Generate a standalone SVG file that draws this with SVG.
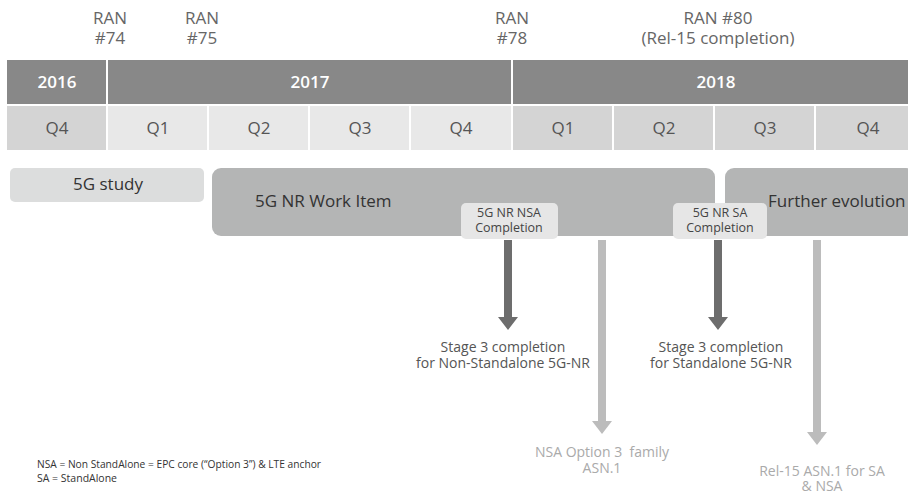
<svg xmlns="http://www.w3.org/2000/svg" width="908" height="494" viewBox="0 0 908 494">
<style>
text{font-family:"Open Sans","Noto Sans","DejaVu Sans",sans-serif;}
.ran{font-size:17px;fill:#666;text-anchor:middle;}
.yr{fill:#888;}
.yt{font-size:17px;fill:#fff;text-anchor:middle;font-weight:600;}
.qa{fill:#e8e8e8;}
.qb{fill:#d4d4d4;}
.qt{font-size:17px;fill:#555;text-anchor:middle;}
.box{font-size:17px;fill:#333;}
.cbox{fill:#e6e6e6;}
.ct{font-size:12.5px;fill:#444;text-anchor:middle;}
.st{font-size:14px;fill:#555;text-anchor:middle;}
.lt{font-size:14px;fill:#aaa;text-anchor:middle;}
.lg{font-size:10.5px;fill:#333;}
.dark{fill:#6d6d6d;}
.light{fill:#bcbcbc;}
</style>
<rect width="908" height="494" fill="#fff"/>
<g id="ran-labels">
<text class="ran" x="110" y="24">RAN</text><text class="ran" x="110" y="44">#74</text>
<text class="ran" x="202" y="24">RAN</text><text class="ran" x="202" y="44">#75</text>
<text class="ran" x="512" y="24">RAN</text><text class="ran" x="512" y="44">#78</text>
<text class="ran" x="718" y="24">RAN #80</text><text class="ran" x="718" y="44">(Rel-15 completion)</text>
</g>
<g id="years">
<rect class="yr" x="7" y="60" width="99" height="44"/>
<rect class="yr" x="108" y="60" width="403" height="44"/>
<rect class="yr" x="513" y="60" width="395" height="44"/>
<text class="yt" x="57" y="88">2016</text>
<text class="yt" x="310" y="88">2017</text>
<text class="yt" x="716" y="88">2018</text>
</g>
<g id="quarters">
<rect class="qb" x="7" y="106" width="99" height="44"/>
<rect class="qa" x="108" y="106" width="99" height="44"/>
<rect class="qa" x="209" y="106" width="99" height="44"/>
<rect class="qa" x="310" y="106" width="99" height="44"/>
<rect class="qa" x="411" y="106" width="100" height="44"/>
<rect class="qb" x="513" y="106" width="99" height="44"/>
<rect class="qb" x="614" y="106" width="99" height="44"/>
<rect class="qb" x="715" y="106" width="99" height="44"/>
<rect class="qb" x="816" y="106" width="92" height="44"/>
<text class="qt" x="57" y="134">Q4</text>
<text class="qt" x="158" y="134">Q1</text>
<text class="qt" x="259" y="134">Q2</text>
<text class="qt" x="360" y="134">Q3</text>
<text class="qt" x="461" y="134">Q4</text>
<text class="qt" x="563" y="134">Q1</text>
<text class="qt" x="664" y="134">Q2</text>
<text class="qt" x="765" y="134">Q3</text>
<text class="qt" x="868" y="134">Q4</text>
</g>
<g id="study">
<rect x="10" y="168" width="194" height="34" rx="5" fill="#dcdddd"/>
<text class="box" x="108" y="190" text-anchor="middle">5G study</text>
</g>
<g id="work-item">
<rect x="212" y="168" width="503" height="68" rx="9" fill="#b4b5b5"/>
<text class="box" x="255" y="207">5G NR Work Item</text>
</g>
<g id="further">
<rect x="725" y="168" width="190" height="68" rx="9" fill="#b4b5b5"/>
<text class="box" x="768" y="207" font-size="18">Further evolution</text>
</g>
<g id="nsa-completion">
<rect class="cbox" x="461" y="203" width="97" height="36" rx="5"/>
<text class="ct" x="509" y="217">5G NR NSA</text>
<text class="ct" x="509" y="232">Completion</text>
</g>
<g id="sa-completion">
<rect class="cbox" x="673" y="203" width="94" height="36" rx="5"/>
<text class="ct" x="720" y="217">5G NR SA</text>
<text class="ct" x="720" y="232">Completion</text>
</g>
<g id="connectors">
<polygon class="dark" points="504,240 512,240 512,317 518,317 508,330 498,317 504,317"/>
<polygon class="light" points="598,240 606,240 606,421 612,421 602,434 592,421 598,421"/>
<polygon class="dark" points="714,240 722,240 722,317 728,317 718,330 708,317 714,317"/>
<polygon class="light" points="813,240 821,240 821,432 827,432 817,445 807,432 813,432"/>
</g>
<g id="outcome-labels">
<text class="st" x="503" y="352">Stage 3 completion</text>
<text class="st" x="503" y="368">for Non-Standalone 5G-NR</text>
<text class="st" x="721" y="352">Stage 3 completion</text>
<text class="st" x="721" y="368">for Standalone 5G-NR</text>
<text class="lt" x="602" y="457" xml:space="preserve">NSA Option 3  family</text>
<text class="lt" x="602" y="473">ASN.1</text>
<text class="lt" x="822" y="476">Rel-15 ASN.1 for SA</text>
<text class="lt" x="822" y="491">&amp; NSA</text>
</g>
<g id="legend">
<text class="lg" x="37" y="468" textLength="284" lengthAdjust="spacingAndGlyphs">NSA = Non StandAlone = EPC core (“Option 3”) &amp; LTE anchor</text>
<text class="lg" x="37" y="482">SA = StandAlone</text>
</g>
</svg>
